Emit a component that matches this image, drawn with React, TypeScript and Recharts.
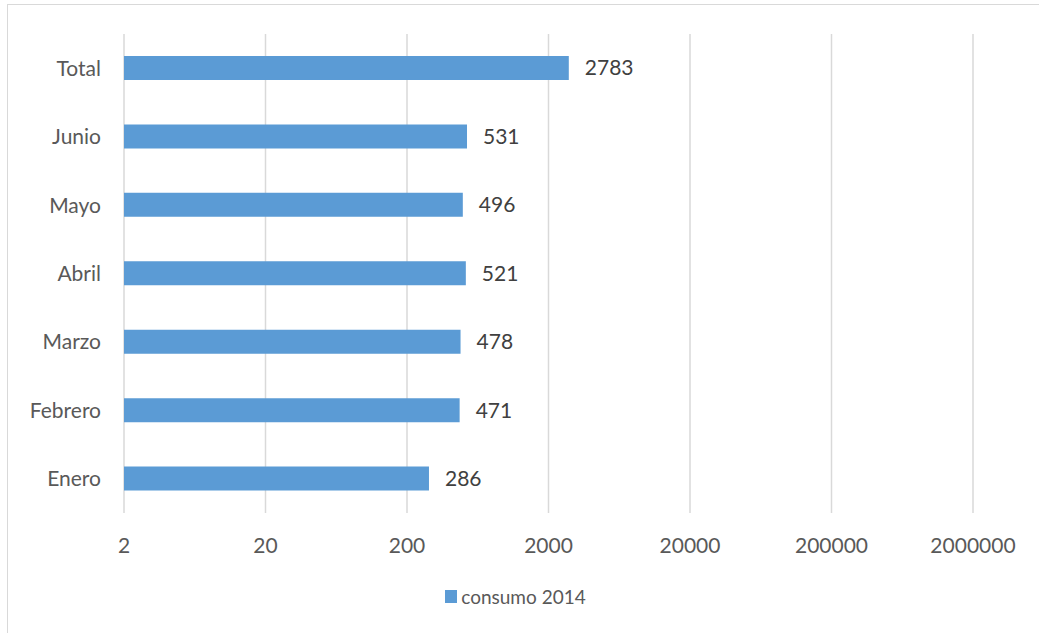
import React from "react";
import {
  BarChart,
  Bar,
  XAxis,
  YAxis,
  CartesianGrid,
  Legend,
  LabelList,
} from "recharts";

const months = ["Total", "Junio", "Mayo", "Abril", "Marzo", "Febrero", "Enero"];
const consumo2014 = [2783, 531, 496, 521, 478, 471, 286];
const xTicks = [2, 20, 200, 2000, 20000, 200000, 2000000];
const seriesName = "consumo 2014";

const data = months.map((name, i) => ({ name, consumo: consumo2014[i] }));

const FONT = "Lato, sans-serif";
const BLUE = "#5b9bd5";

const renderLegend = () => (
  <div
    style={{
      display: "flex",
      alignItems: "center",
      justifyContent: "center",
      fontFamily: FONT,
      fontSize: 19,
      color: "#595959",
      paddingRight: 8,
    }}
  >
    <span
      style={{
        display: "inline-block",
        width: 12,
        height: 13,
        background: BLUE,
        marginRight: 4,
      }}
    />
    <span>{seriesName}</span>
  </div>
);

export default function App() {
  return (
    <div
      style={{
        position: "absolute",
        left: 0,
        top: 0,
        width: 1039,
        height: 633,
        background: "#fff",
        overflow: "hidden",
      }}
    >
      <div
        style={{
          position: "absolute",
          left: 7,
          top: 4,
          width: 1040,
          height: 640,
          border: "1px solid #d9d9d9",
        }}
      />
      <div style={{ position: "absolute", left: 0, top: 0 }}>
        <BarChart
          width={1039}
          height={633}
          data={data}
          layout="vertical"
          margin={{ top: 34, right: 66, bottom: 80, left: 0 }}
        >
          <CartesianGrid
            stroke="#d9d9d9"
            strokeWidth={1.5}
            horizontal={false}
            vertical={true}
          />
          <XAxis
            type="number"
            scale="log"
            domain={[2, 2000000]}
            ticks={xTicks}
            allowDataOverflow
            axisLine={false}
            tickLine={false}
            tickSize={0}
            tickMargin={25}
            height={40}
            tick={{ fill: "#595959", fontSize: 21, fontFamily: FONT }}
          />
          <YAxis
            type="category"
            dataKey="name"
            width={124}
            axisLine={false}
            tickLine={false}
            tickSize={0}
            tickMargin={23}
            tick={{ fill: "#595959", fontSize: 21, fontFamily: FONT }}
          />
          <Legend
            layout="horizontal"
            verticalAlign="middle"
            align="center"
            content={renderLegend}
            wrapperStyle={{ top: 585, left: 0, width: 1039 }}
          />
          <Bar
            dataKey="consumo"
            name={seriesName}
            fill={BLUE}
            barSize={24}
            isAnimationActive={false}
          >
            <LabelList
              dataKey="consumo"
              position="right"
              offset={16}
              fill="#404040"
              fontSize={21}
              fontFamily={FONT}
            />
          </Bar>
        </BarChart>
      </div>
    </div>
  );
}
